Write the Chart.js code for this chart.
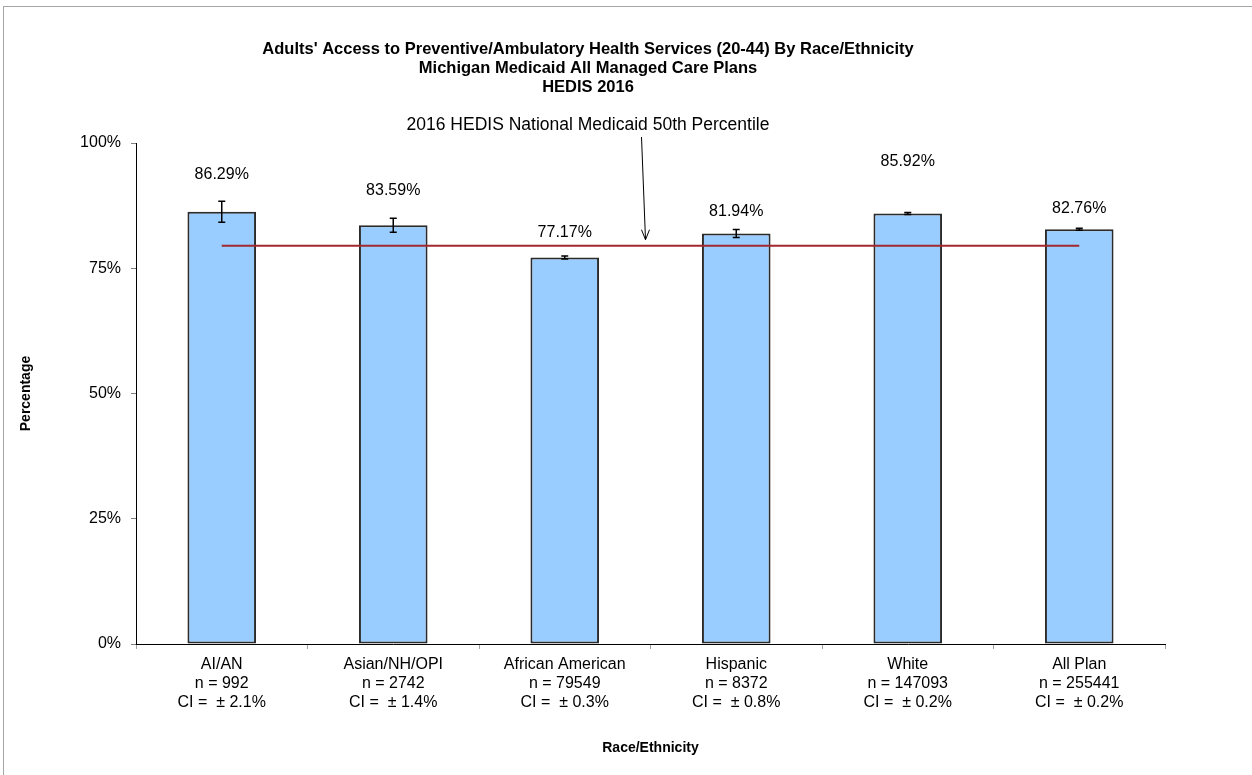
<!DOCTYPE html>
<html>
<head>
<meta charset="utf-8">
<title>Adults' Access to Preventive/Ambulatory Health Services (20-44) By Race/Ethnicity</title>
<script src="https://cdn.jsdelivr.net/npm/chart.js@4.4.1/dist/chart.umd.min.js"></script>
<style>
  html, body { margin: 0; padding: 0; background: #fff; }
  #wrap { width: 1252px; height: 775px; }
</style>
</head>
<body>
<div id="wrap"><canvas id="chart" width="1252" height="775"></canvas></div>
<script>
// values
const categories = ['AI/AN', 'Asian/NH/OPI', 'African American', 'Hispanic', 'White', 'All Plan'];
const sampleSizes = [992, 2742, 79549, 8372, 147093, 255441];
const rates = [86.29, 83.59, 77.17, 81.94, 85.92, 82.76];
const ciMargins = [2.1, 1.4, 0.3, 0.8, 0.2, 0.2];
const benchmark = 79.5;
const yTicks = [0, 25, 50, 75, 100];

const titleLines = [
  "Adults' Access to Preventive/Ambulatory Health Services (20-44) By Race/Ethnicity",
  'Michigan Medicaid All Managed Care Plans',
  'HEDIS 2016'
];
const benchmarkNote = '2016 HEDIS National Medicaid 50th Percentile';

// how far above each bar top its value label sits (px), as placed in the original
const labelLift = [37, 35, 25, 22, 52, 21];

const FONT = 'Arial, "Liberation Sans", Helvetica, sans-serif';

const xLabels = categories.map((c, i) => [
  c,
  'n = ' + sampleSizes[i],
  'CI =  \u00b1 ' + ciMargins[i].toFixed(1) + '%'
]);

// frame, title and the benchmark call-out
const decorations = {
  id: 'decorations',
  beforeDraw(chart) {
    const ctx = chart.ctx;
    ctx.save();
    ctx.fillStyle = '#fff';
    ctx.fillRect(0, 0, chart.width, chart.height);
    ctx.strokeStyle = '#a6a6a6';
    ctx.lineWidth = 1;
    ctx.strokeRect(3.5, 6.5, chart.width + 10, chart.height + 10);
    ctx.restore();
  },
  afterDraw(chart) {
    const { ctx, scales: { x, y } } = chart;
    ctx.save();
    ctx.fillStyle = '#000';
    ctx.textAlign = 'center';
    ctx.textBaseline = 'middle';
    ctx.font = 'bold 16.5px ' + FONT;
    titleLines.forEach((t, i) => ctx.fillText(t, 588, 49 + i * 19));

    ctx.font = '17.5px ' + FONT;
    ctx.fillText(benchmarkNote, 588, 125);

    // arrow down to the benchmark line, between the 3rd and 4th bars
    const tipX = (x.getPixelForValue(2) + x.getPixelForValue(3)) / 2 - 5;
    const tipY = y.getPixelForValue(benchmark) - 6;
    const startX = tipX - 4, startY = 137;
    ctx.strokeStyle = '#000';
    ctx.lineWidth = 1;
    ctx.beginPath();
    ctx.moveTo(startX, startY);
    ctx.lineTo(tipX, tipY);
    ctx.moveTo(tipX - 4, tipY - 10);
    ctx.lineTo(tipX, tipY);
    ctx.lineTo(tipX + 4, tipY - 10);
    ctx.stroke();
    ctx.restore();
  }
};

const errorBars = {
  id: 'errorBars',
  afterDatasetsDraw(chart) {
    const { ctx, scales: { y } } = chart;
    const meta = chart.getDatasetMeta(0);
    ctx.save();
    ctx.strokeStyle = '#000';
    ctx.lineWidth = 1.5;
    meta.data.forEach((bar, i) => {
      const top = y.getPixelForValue(rates[i] + ciMargins[i]);
      const bot = y.getPixelForValue(rates[i] - ciMargins[i]);
      ctx.beginPath();
      ctx.moveTo(bar.x, top);
      ctx.lineTo(bar.x, bot);
      ctx.moveTo(bar.x - 3.5, top);
      ctx.lineTo(bar.x + 3.5, top);
      ctx.moveTo(bar.x - 3.5, bot);
      ctx.lineTo(bar.x + 3.5, bot);
      ctx.stroke();
    });
    ctx.fillStyle = '#000';
    ctx.textAlign = 'center';
    ctx.textBaseline = 'middle';
    ctx.font = '16px ' + FONT;
    meta.data.forEach((bar, i) => {
      ctx.fillText(rates[i].toFixed(2) + '%', bar.x, bar.y - labelLift[i]);
    });
    ctx.restore();
  }
};

new Chart(document.getElementById('chart'), {
  type: 'bar',
  data: {
    labels: xLabels,
    datasets: [
      {
        type: 'bar',
        label: 'Rate',
        data: rates,
        backgroundColor: '#99ccff',
        borderColor: '#2b2b2b',
        borderWidth: 2,
        borderSkipped: false,
        barPercentage: 0.4,
        categoryPercentage: 1,
        order: 2
      },
      {
        type: 'line',
        label: benchmarkNote,
        data: categories.map(() => benchmark),
        borderColor: '#a3282d',
        borderWidth: 2,
        pointRadius: 0,
        fill: false,
        order: 1
      }
    ]
  },
  options: {
    responsive: false,
    animation: false,
    layout: { padding: { left: 0, right: 87, top: 143, bottom: 0 } },
    plugins: {
      legend: { display: false },
      tooltip: { enabled: false },
      title: { display: false }
    },
    scales: {
      x: {
        grid: { drawOnChartArea: false, drawTicks: true, tickLength: 5, color: '#a0a0a0' },
        border: { color: '#000', width: 1 },
        ticks: { color: '#000', padding: 6, maxRotation: 0, font: { family: FONT, size: 16, lineHeight: 1.2 } },
        title: {
          display: true,
          text: 'Race/Ethnicity',
          color: '#000',
          font: { family: FONT, size: 14, weight: 'bold', lineHeight: 1.2 },
          padding: { top: 0, bottom: 18 }
        },
        afterFit(scale) { scale.height = 131; }
      },
      y: {
        min: 0,
        max: 100,
        afterBuildTicks(scale) { scale.ticks = yTicks.map(v => ({ value: v })); },
        grid: { drawOnChartArea: false, drawTicks: true, tickLength: 5, color: '#808080' },
        border: { color: '#000', width: 1 },
        ticks: { color: '#000', padding: 10, font: { family: FONT, size: 16 }, callback: v => v + '%' },
        title: {
          display: true,
          text: 'Percentage',
          color: '#000',
          font: { family: FONT, size: 14, weight: 'bold', lineHeight: 1.2 },
          padding: { top: 18, bottom: 0 }
        },
        afterFit(scale) { scale.width = 136; }
      }
    }
  },
  plugins: [decorations, errorBars]
});
</script>
</body>
</html>
